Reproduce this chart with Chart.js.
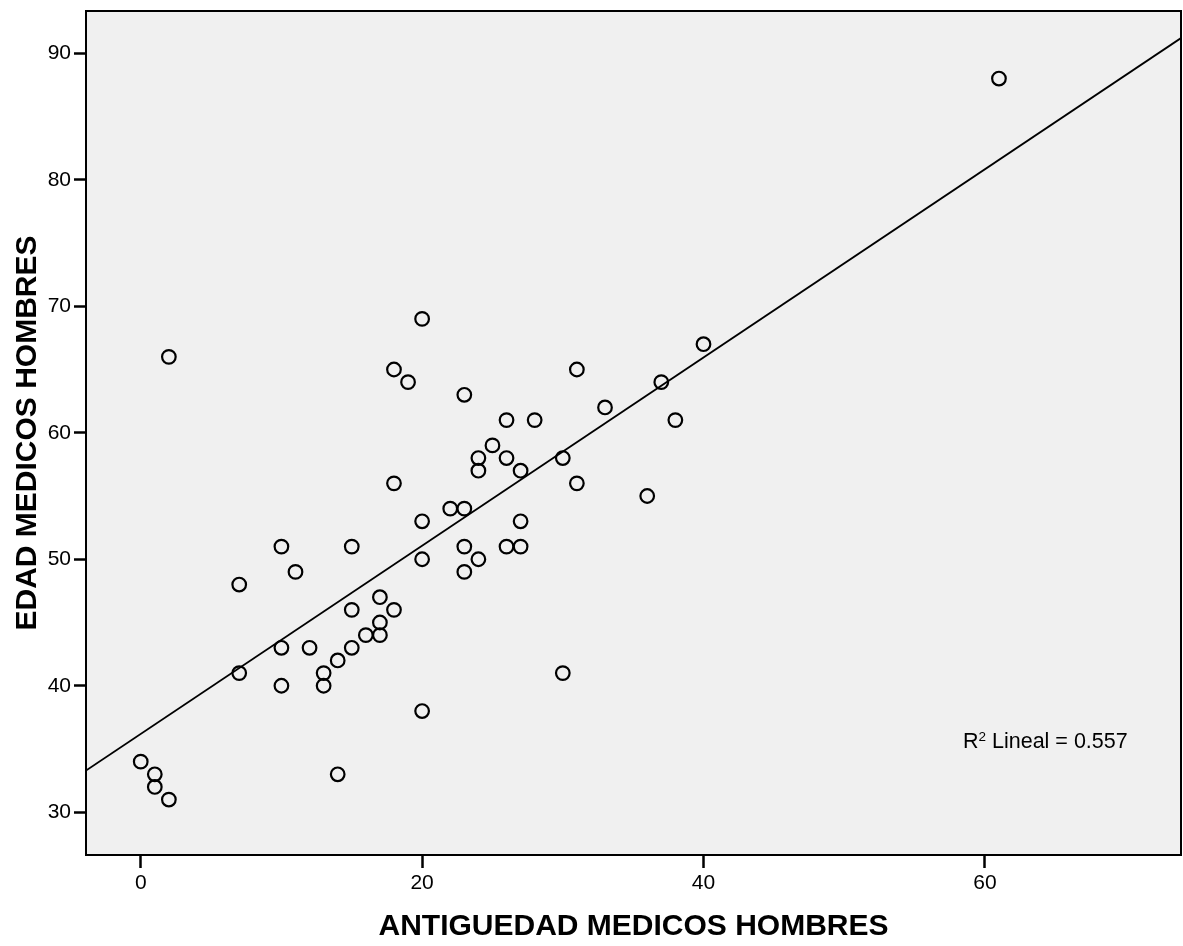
<!DOCTYPE html>
<html>
<head>
<meta charset="utf-8">
<title>Edad vs antigüedad</title>
<script src="https://cdn.jsdelivr.net/npm/chart.js@4/dist/chart.umd.min.js"></script>
<style>
  html, body { margin: 0; padding: 0; background: #ffffff; }
  #c { display: block; }
</style>
</head>
<body>
<canvas id="c" width="1183" height="946"></canvas>
<script>
// Años de antigüedad y edad de cada médico (hombres)
const antiguedad = [61, 2, 20, 40, 18, 31, 19, 37, 23, 33, 26, 28, 38, 25, 24, 26, 30, 24, 27, 18,
                    31, 36, 22, 23, 20, 27, 10, 15, 23, 26, 27, 11, 23, 20, 24, 7, 17, 15, 18, 17,
                    16, 17, 10, 12, 15, 14, 7, 13, 30, 10, 13, 20, 0, 1, 14, 1, 2];
const edad       = [88, 66, 69, 67, 65, 65, 64, 64, 63, 62, 61, 61, 61, 59, 58, 58, 58, 57, 57, 56,
                    56, 55, 54, 54, 53, 53, 51, 51, 51, 51, 51, 49, 49, 50, 50, 48, 47, 46, 46, 45,
                    44, 44, 43, 43, 43, 42, 41, 41, 41, 40, 40, 38, 34, 33, 33, 32, 31];

// Recta de regresión lineal (edad = intercepto + pendiente · antigüedad) y su R²
const fitIntercept = 36.19;
const fitSlope = 0.744;
const r2Value = 0.557;

const xTicks = [0, 20, 40, 60];
const yTicks = [30, 40, 50, 60, 70, 80, 90];
const xRange = [-3.89, 73.94];
const yRange = [26.62, 93.34];

const xTitle = 'ANTIGUEDAD MEDICOS HOMBRES';
const yTitle = 'EDAD MEDICOS HOMBRES';

const fitLine = xRange.map(x => ({ x, y: fitIntercept + fitSlope * x }));
const points = antiguedad.map((x, i) => ({ x, y: edad[i] }));

const FONT = '"Liberation Sans", Arial, Helvetica, sans-serif';

// Fondo gris del área de trazado y marco negro
const framePlugin = {
  id: 'frame',
  beforeDatasetsDraw(chart) {
    const { ctx, chartArea: a } = chart;
    ctx.save();
    ctx.fillStyle = '#f0f0f0';
    ctx.fillRect(a.left, a.top, a.right - a.left, a.bottom - a.top);
    ctx.restore();
  },
  afterDraw(chart) {
    const { ctx, chartArea: a } = chart;
    ctx.save();
    ctx.strokeStyle = '#000';
    ctx.lineWidth = 2;
    ctx.strokeRect(a.left, a.top, a.right - a.left, a.bottom - a.top);
    ctx.restore();
  }
};

// Etiqueta del coeficiente de determinación
const r2Plugin = {
  id: 'r2label',
  afterDatasetsDraw(chart) {
    const { ctx, chartArea: a } = chart;
    const x = a.right - 218;
    const y = a.bottom - 107;
    ctx.save();
    ctx.fillStyle = '#000';
    ctx.textBaseline = 'alphabetic';
    ctx.textAlign = 'left';
    ctx.font = '21.5px ' + FONT;
    ctx.fillText('R', x, y);
    const wR = ctx.measureText('R').width;
    ctx.font = '13.5px ' + FONT;
    ctx.fillText('2', x + wR, y - 7);
    const w2 = ctx.measureText('2').width;
    ctx.font = '21.5px ' + FONT;
    ctx.fillText(' Lineal = ' + r2Value.toFixed(3), x + wR + w2, y);
    ctx.restore();
  }
};

new Chart(document.getElementById('c'), {
  type: 'scatter',
  data: {
    datasets: [
      {
        type: 'line',
        data: fitLine,
        borderColor: '#000',
        borderWidth: 1.8,
        pointRadius: 0,
        fill: false,
        order: 2
      },
      {
        data: points,
        pointStyle: 'circle',
        pointRadius: 6.8,
        borderWidth: 2.2,
        borderColor: '#000',
        backgroundColor: 'rgba(0,0,0,0)',
        order: 1
      }
    ]
  },
  options: {
    responsive: false,
    animation: false,
    devicePixelRatio: 1,
    layout: { autoPadding: false, padding: { top: 11, right: 2, left: 0, bottom: 0 } },
    plugins: { legend: { display: false }, tooltip: { enabled: false } },
    scales: {
      x: {
        type: 'linear',
        min: xRange[0],
        max: xRange[1],
        afterBuildTicks: s => { s.ticks = xTicks.map(v => ({ value: v })); },
        afterFit: s => { s.height = 91; s.paddingLeft = 0; s.paddingRight = 0; },
        border: { display: false },
        grid: { drawOnChartArea: false, drawTicks: true, tickLength: 13, tickWidth: 2.5, tickColor: '#000' },
        ticks: { color: '#000', font: { family: FONT, size: 21 }, padding: 3, maxRotation: 0 },
        title: {
          display: true, text: xTitle, color: '#000',
          font: { family: FONT, size: 30, weight: 'bold' },
          padding: { top: 0, bottom: 1 }
        }
      },
      y: {
        type: 'linear',
        min: yRange[0],
        max: yRange[1],
        afterBuildTicks: s => { s.ticks = yTicks.map(v => ({ value: v })); },
        afterFit: s => { s.width = 86; s.paddingTop = 0; s.paddingBottom = 0; },
        border: { display: false },
        grid: { drawOnChartArea: false, drawTicks: true, tickLength: 12, tickWidth: 2.5, tickColor: '#000' },
        ticks: { color: '#000', font: { family: FONT, size: 21 }, padding: 3 },
        title: {
          display: true, text: yTitle, color: '#000',
          font: { family: FONT, size: 30, weight: 'bold' },
          padding: { top: 10, bottom: 0 }
        }
      }
    }
  },
  plugins: [framePlugin, r2Plugin]
});
</script>
</body>
</html>
